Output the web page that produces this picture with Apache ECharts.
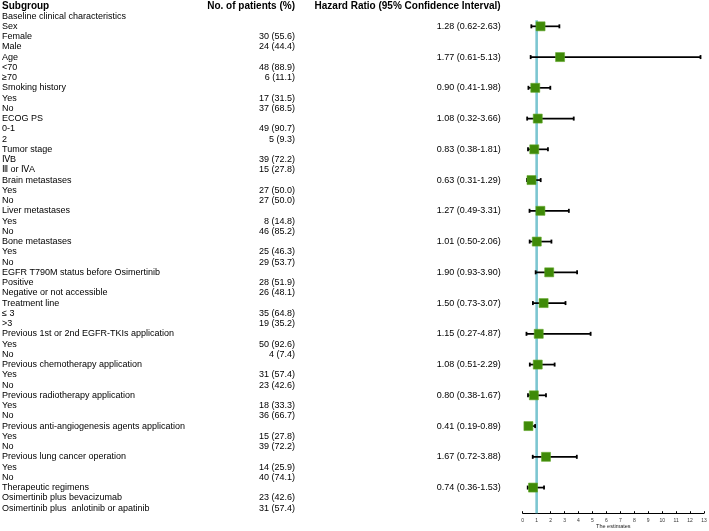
<!DOCTYPE html>
<html><head><meta charset="utf-8">
<script src="https://cdn.jsdelivr.net/npm/echarts@6/dist/echarts.min.js"></script>
<style>html,body{margin:0;padding:0;background:#fff}#c{width:709px;height:531px}</style>
</head><body><div id="c"></div>
<script>
// ---- data ----
const rowLabels = [
  'Subgroup',
  'Baseline clinical characteristics',
  'Sex', 'Female', 'Male',
  'Age', '<70', '≥70',
  'Smoking history', 'Yes', 'No',
  'ECOG PS', '0-1', '2',
  'Tumor stage', 'ⅣB', 'Ⅲ or ⅣA',
  'Brain metastases', 'Yes', 'No',
  'Liver metastases', 'Yes', 'No',
  'Bone metastases', 'Yes', 'No',
  'EGFR T790M status before Osimertinib', 'Positive', 'Negative or not accessible',
  'Treatment line', '≤ 3', '>3',
  'Previous 1st or 2nd EGFR-TKIs application', 'Yes', 'No',
  'Previous chemotherapy application', 'Yes', 'No',
  'Previous radiotherapy application', 'Yes', 'No',
  'Previous anti-angiogenesis agents application', 'Yes', 'No',
  'Previous lung cancer operation', 'Yes', 'No',
  'Therapeutic regimens', 'Osimertinib plus bevacizumab', 'Osimertinib plus  anlotinib or apatinib'
];
const patientCounts = [
  'No. of patients (%)',
  '',
  '', '30 (55.6)', '24 (44.4)',
  '', '48 (88.9)', '6 (11.1)',
  '', '17 (31.5)', '37 (68.5)',
  '', '49 (90.7)', '5 (9.3)',
  '', '39 (72.2)', '15 (27.8)',
  '', '27 (50.0)', '27 (50.0)',
  '', '8 (14.8)', '46 (85.2)',
  '', '25 (46.3)', '29 (53.7)',
  '', '28 (51.9)', '26 (48.1)',
  '', '35 (64.8)', '19 (35.2)',
  '', '50 (92.6)', '4 (7.4)',
  '', '31 (57.4)', '23 (42.6)',
  '', '18 (33.3)', '36 (66.7)',
  '', '15 (27.8)', '39 (72.2)',
  '', '14 (25.9)', '40 (74.1)',
  '', '23 (42.6)', '31 (57.4)'
];
const hrHeader = 'Hazard Ratio (95% Confidence Interval)';
const groupNames = ['Sex', 'Age', 'Smoking history', 'ECOG PS', 'Tumor stage', 'Brain metastases',
  'Liver metastases', 'Bone metastases', 'EGFR T790M status before Osimertinib', 'Treatment line',
  'Previous 1st or 2nd EGFR-TKIs application', 'Previous chemotherapy application',
  'Previous radiotherapy application', 'Previous anti-angiogenesis agents application',
  'Previous lung cancer operation', 'Therapeutic regimens'];
const hrText = ['1.28 (0.62-2.63)', '1.77 (0.61-5.13)', '0.90 (0.41-1.98)', '1.08 (0.32-3.66)',
  '0.83 (0.38-1.81)', '0.63 (0.31-1.29)', '1.27 (0.49-3.31)', '1.01 (0.50-2.06)',
  '1.90 (0.93-3.90)', '1.50 (0.73-3.07)', '1.15 (0.27-4.87)', '1.08 (0.51-2.29)',
  '0.80 (0.38-1.67)', '0.41 (0.19-0.89)', '1.67 (0.72-3.88)', '0.74 (0.36-1.53)'];
// plotted estimates as drawn in the picture
const hrEstimate = [1.28, 2.68, 0.90, 1.08, 0.83, 0.63, 1.27, 1.01, 1.90, 1.50, 1.15, 1.08, 0.80, 0.41, 1.67, 0.74];
const ciLower    = [0.62, 0.57, 0.41, 0.32, 0.38, 0.31, 0.49, 0.50, 0.93, 0.73, 0.27, 0.51, 0.38, 0.19, 0.72, 0.36];
const ciUpper    = [2.63, 12.75, 1.98, 3.66, 1.81, 1.29, 3.31, 2.06, 3.90, 3.07, 4.87, 2.29, 1.67, 0.89, 3.88, 1.53];
const xMin = 0, xMax = 13, xStep = 1;
const referenceHR = 1;

// ---- build ----
const FONT = "'Liberation Sans', Arial, sans-serif";
const groupRows = groupNames.map(n => rowLabels.indexOf(n));
const hrColumn = rowLabels.map((_, i) => { const g = groupRows.indexOf(i); return g >= 0 ? hrText[g] : ''; });
hrColumn[0] = hrHeader;
const nRows = rowLabels.length;

const chart = echarts.init(document.getElementById('c'), null, {renderer: 'canvas'});
const labelAxis = (data, margin, align) => ({
  type: 'category', data: data, inverse: true, position: 'left', gridIndex: 0,
  axisLine: {show: false}, axisTick: {show: false}, splitLine: {show: false},
  axisLabel: {
    interval: 0, margin: margin, align: align, color: '#000', fontFamily: FONT, fontSize: 9,
    formatter: (v, i) => i === 0 ? '{h|' + v + '}' : v,
    rich: {h: {fontWeight: 'bold', fontSize: 10, fontFamily: FONT, color: '#000'}}
  }
});

chart.setOption({
  animation: false,
  backgroundColor: '#fff',
  grid: {left: 522.7, right: 5, top: 0.7, bottom: 17.8, containLabel: false, outerBoundsMode: 'none'},
  xAxis: {
    type: 'value', min: xMin, max: xMax, interval: xStep, position: 'bottom',
    axisLine: {show: true, onZero: false, lineStyle: {color: '#000', width: 1}},
    axisTick: {show: true, inside: true, length: 2, lineStyle: {color: '#000', width: 1}},
    splitLine: {show: false},
    axisLabel: {fontSize: 5, color: '#333', margin: 5, fontFamily: FONT},
    name: 'The estimates', nameLocation: 'middle', nameGap: 10, nameMoveOverlap: false,
    nameTextStyle: {fontSize: 5.5, color: '#222', fontFamily: FONT}
  },
  yAxis: [
    {type: 'value', min: -0.5, max: nRows - 0.5, inverse: true, show: false},
    labelAxis(rowLabels, 520.7, 'left'),
    labelAxis(patientCounts, 522.7 - 295, 'right'),
    labelAxis(hrColumn, 522.7 - 500.7, 'right')
  ],
  series: [
    {
      type: 'line', xAxisIndex: 0, yAxisIndex: 0, symbol: 'none', silent: true, z: 1,
      lineStyle: {color: '#7cc6d1', width: 2.6},
      data: [[referenceHR, 1.4], [referenceHR, nRows - 0.5]]
    },
    {
      type: 'custom', xAxisIndex: 0, yAxisIndex: 0, z: 2,
      encode: {x: [1, 2], y: 0},
      data: groupRows.map((r, i) => [r, ciLower[i], ciUpper[i]]),
      renderItem: (params, api) => {
        const y = api.value(0);
        const p1 = api.coord([api.value(1), y]);
        const p2 = api.coord([api.value(2), y]);
        const st = {stroke: '#000', lineWidth: 1.7};
        return {type: 'group', children: [
          {type: 'line', shape: {x1: p1[0], y1: p1[1], x2: p2[0], y2: p2[1]}, style: st},
          {type: 'line', shape: {x1: p1[0], y1: p1[1] - 2, x2: p1[0], y2: p1[1] + 2}, style: {stroke: '#000', lineWidth: 1.8}},
          {type: 'line', shape: {x1: p2[0], y1: p2[1] - 2, x2: p2[0], y2: p2[1] + 2}, style: {stroke: '#000', lineWidth: 1.8}}
        ]};
      }
    },
    {
      type: 'scatter', xAxisIndex: 0, yAxisIndex: 0, z: 3,
      symbol: 'rect', symbolSize: 9,
      itemStyle: {color: '#3f8a08', borderColor: '#62a82a', borderWidth: 0.6, opacity: 1},
      data: groupRows.map((r, i) => [hrEstimate[i], r])
    }
  ]
});
</script></body></html>
